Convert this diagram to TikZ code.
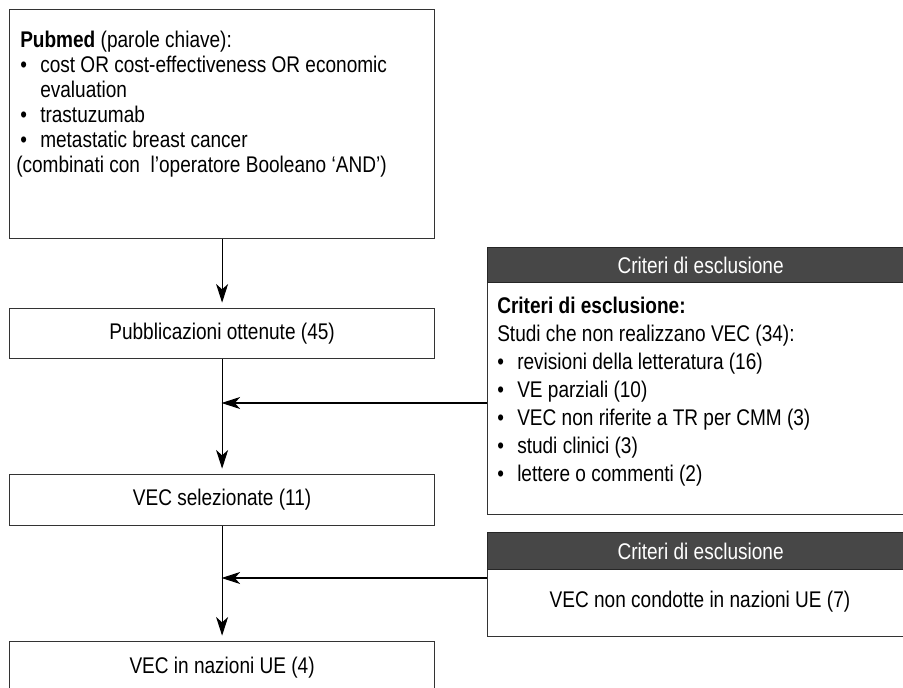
\documentclass[tikz,border=0pt]{standalone}
\usepackage{fontspec}
\setmainfont{Liberation Sans}[FakeStretch=0.84]
\usetikzlibrary{arrows.meta, positioning}
\newcommand{\bul}{\makebox[15pt][l]{\textbullet}}

\begin{document}
\begin{tikzpicture}[
    x=0.75pt, y=-0.75pt,
    font=\fontsize{17}{18.75}\selectfont,
    stepbox/.style={draw=black!80, line width=0.9pt, anchor=north west, inner sep=0pt, minimum width=318.75pt},
    headbox/.style={draw=black!85, fill=black!72, text=white, line width=0.9pt, anchor=north west, inner sep=0pt, minimum width=319.5pt},
    flow/.style={-{Stealth[length=14pt, width=9pt, inset=4pt]}, line width=0.8pt, shorten >=4pt}
]
\useasboundingbox (0,0) rectangle (903,688);

% Left column
\node[stepbox, minimum height=171.75pt] (search) at (9,9) {};
\node[anchor=north west, align=left, inner sep=0pt] (keywords) at (20,31) {%
    \textbf{Pubmed} (parole chiave):\\
    \bul cost OR cost-effectiveness OR economic\\
    \hspace*{15pt}evaluation\\
    \bul trastuzumab\\
    \bul metastatic breast cancer\\
    \hspace*{-3pt}(combinati con\ \ l'operatore Booleano `AND')};
\node[stepbox, minimum height=37.5pt] (found) at (9,308) {Pubblicazioni ottenute (45)};
\node[stepbox, minimum height=38.25pt] (selected) at (9,474) {VEC selezionate (11)};
\node[stepbox, minimum height=39pt] (eu) at (9,641) {VEC in nazioni UE (4)};

% Exclusion boxes
\node[stepbox, minimum width=319.5pt, minimum height=200.25pt] (excl1) at (487,247) {};
\node[headbox, minimum height=26.25pt] (head1) at (487,247) {Criteri di esclusione};
\node[anchor=north west, align=left, inner sep=0pt, font=\fontsize{17}{21}\selectfont] (reasons1) at (497,297) {%
    \textbf{Criteri di esclusione:}\\
    Studi che non realizzano VEC (34):\\
    \bul revisioni della letteratura (16)\\
    \bul VE parziali (10)\\
    \bul VEC non riferite a TR per CMM (3)\\
    \bul studi clinici (3)\\
    \bul lettere o commenti (2)};

\node[stepbox, minimum width=319.5pt, minimum height=78pt] (excl2) at (487,532) {};
\node[headbox, minimum height=27.75pt] (head2) at (487,532) {Criteri di esclusione};
\node (reasons2) at (700,602) {VEC non condotte in nazioni UE (7)};

% Connectors
\coordinate (join1) at (221.5,403);
\coordinate (join2) at (221.5,578);
\draw[flow] (search) -- (found);
\draw[flow] (found) -- (selected);
\draw[flow] (selected) -- (eu);
\draw[flow, shorten >=0pt] (excl1.west |- join1) -- (join1);
\draw[flow, shorten >=0pt] (excl2.west |- join2) -- (join2);

\end{tikzpicture}
\end{document}
